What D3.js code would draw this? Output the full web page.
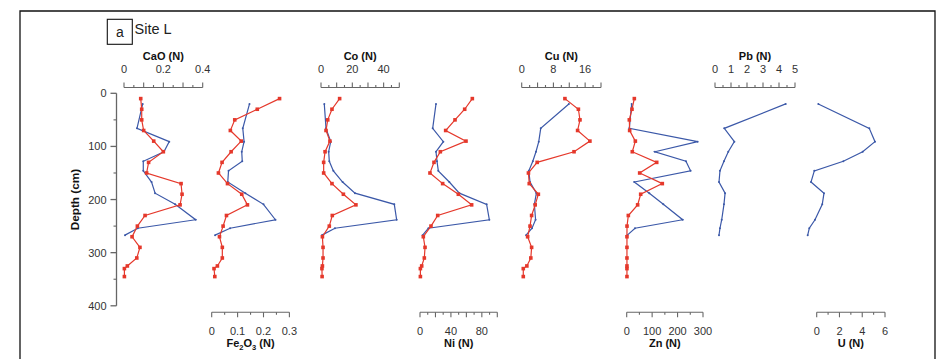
<!DOCTYPE html>
<html><head><meta charset="utf-8">
<script src="https://cdn.jsdelivr.net/npm/d3@7"></script>
<style>
html,body{margin:0;padding:0;background:#fff;}
svg{display:block;font-family:"Liberation Sans",Arial,sans-serif;}
</style></head>
<body><svg id="chart" width="945" height="362"></svg>
<script>
// ---- data ----
const depthRed  = [10,30,50,70,90,110,130,150,170,190,210,230,250,270,290,310,325,330,345];
const depthBlue = [20,66,91,110,128,146,167,188,209,238,254,267];

const caoRed  = [0.085,0.09,0.09,0.10,0.151,0.20,0.125,0.115,0.29,0.295,0.285,0.107,0.068,0.041,0.081,0.065,0.017,0.002,0.002];
const caoBlue = [0.095,0.066,0.23,0.203,0.098,0.098,0.14,0.158,0.26,0.364,0.07,0.005];
const fe2o3Red  = [0.262,0.176,0.089,0.072,0.114,0.075,0.04,0.026,0.061,0.116,0.138,0.057,0.044,0.03,0.041,0.041,0.022,0.009,0.012];
const fe2o3Blue = [0.146,0.12,0.125,0.116,0.118,0.065,0.062,0.13,0.2,0.246,0.071,0.013];
const coRed  = [11.9,7.0,4.3,3.2,5.7,2.6,1.7,1.7,7.0,14.3,22.3,7.2,5.3,0.9,1.3,1.3,0.9,0.6,0.7];
const coBlue = [2.1,3.2,6.2,4.9,5.3,7.9,13.8,21.7,46.8,48.3,8.9,0.6];
const niRed  = [67.7,57.8,45.3,33.2,59.5,26.3,18.1,12.9,29.3,49.6,66.8,22.9,14.2,4.3,6.5,5.6,2.2,0.5,0.5];
const niBlue = [20.7,16.4,30.2,20.7,22,23.7,37.9,50.9,86.2,89.7,10.8,3.4];
const cuRed  = [10.9,14.3,14.7,14.1,17.2,13.2,3.9,1.7,1.9,4.2,3.4,2.5,2.1,1.5,2.5,2.3,1.3,0.4,0.4];
const cuBlue = [11.9,4.8,4.3,3.6,2.8,1.8,2.1,3.7,3.2,3.5,2.6,1.1];
const znRed  = [30,20.8,10.3,11.6,34,22,118,51,140,55,43,6.4,1.2,1,1,1,1,1,1];
const znBlue = [19.5,10.3,279,111,233,251,30,89,144,220,32.6,2.5];
const pbBlue = [4.42,0.58,1.21,0.83,0.56,0.31,0.25,0.63,0.56,0.42,0.31,0.25];
const uBlue  = [0.14,4.62,5.12,4.04,2.34,-0.21,-0.5,0.64,0.49,-0.15,-0.65,-0.79];

const depthTicks = [0,100,200,300,400];
const depthMinor = [50,150,250,350];

const caoLabels = [0,0.2,0.4];
const fe2o3Labels = [0,0.1,0.2,0.3];
const coLabels = [0,20,40];
const niLabels = [0,40,80];
const cuLabels = [0,8,16];
const znLabels = [0,100,200,300];
const pbLabels = [0,1,2,3,4,5];
const uLabels = [0,2,4,6];

// ---- layout ----
const RED = "#e5382b", BLUE = "#3b58a8", AXIS = "#666", TXT = "#333";
const svg = d3.select("#chart");
const y = d3.scaleLinear().domain([0,400]).range([93.3,305.8]);
const topY = 87.5, botY = 312.3;

const panels = [
  {title:"CaO (N)", range:[124,202.7], domain:[0,0.4], step:0.05, major:0.1, labels:caoLabels, pos:"top", red:caoRed, blue:caoBlue, fmt:d=>d===0?"0":d3.format(".1f")(d)},
  {title:"Fe2O3", range:[211.7,289.4], domain:[0,0.3], step:0.05, major:0.1, labels:fe2o3Labels, pos:"bottom", red:fe2o3Red, blue:fe2o3Blue, fmt:d=>d===0?"0":d3.format(".1f")(d)},
  {title:"Co (N)", range:[321,399.3], domain:[0,50], step:5, major:10, labels:coLabels, pos:"top", red:coRed, blue:coBlue, fmt:d3.format("d")},
  {title:"Ni (N)", range:[420,497.3], domain:[0,100], step:10, major:20, labels:niLabels, pos:"bottom", red:niRed, blue:niBlue, fmt:d3.format("d")},
  {title:"Cu (N)", range:[521.7,601], domain:[0,20], step:2, major:4, labels:cuLabels, pos:"top", red:cuRed, blue:cuBlue, fmt:d3.format("d")},
  {title:"Zn (N)", range:[626.7,703], domain:[0,300], step:50, major:100, labels:znLabels, pos:"bottom", red:znRed, blue:znBlue, fmt:d3.format("d")},
  {title:"Pb (N)", range:[715,795], domain:[0,5], step:0.5, major:1, labels:pbLabels, pos:"top", red:null, blue:pbBlue, fmt:d3.format("d")},
  {title:"U (N)", range:[816.7,885], domain:[0,6], step:1, major:2, labels:uLabels, pos:"bottom", red:null, blue:uBlue, fmt:d3.format("d")}
];

// frame
svg.append("path").attr("d","M20,359V11H935V359").attr("fill","none").attr("stroke","#111").attr("stroke-width",1.3);

// label box
svg.append("rect").attr("x",107.3).attr("y",19.3).attr("width",25).attr("height",25)
  .attr("fill","none").attr("stroke","#111").attr("stroke-width",1.1);
svg.append("text").attr("x",119.8).attr("y",37).attr("text-anchor","middle")
  .attr("font-size",14).attr("fill","#222").text("a");
svg.append("text").attr("x",134.5).attr("y",33.5).attr("font-size",14.5).attr("fill","#222").text("Site L");

// depth axis
const dAxis = svg.append("g");
dAxis.append("line").attr("x1",116.5).attr("x2",116.5).attr("y1",y(0)).attr("y2",y(400))
  .attr("stroke",AXIS).attr("stroke-width",1.3);
dAxis.selectAll(".maj").data(depthTicks).join("line")
  .attr("x1",110.5).attr("x2",116.5).attr("y1",d=>y(d)).attr("y2",d=>y(d))
  .attr("stroke",AXIS).attr("stroke-width",1.3);
dAxis.selectAll(".min").data(depthMinor).join("line").attr("class","min")
  .attr("x1",113.5).attr("x2",116.5).attr("y1",d=>y(d)).attr("y2",d=>y(d))
  .attr("stroke",AXIS).attr("stroke-width",1.1);
dAxis.selectAll("text").data(depthTicks).join("text")
  .attr("x",106.5).attr("y",d=>y(d)+4).attr("text-anchor","end")
  .attr("font-size",11).attr("fill",TXT).text(d=>d);
svg.append("text").attr("transform",`translate(79,${y(200)}) rotate(-90)`)
  .attr("text-anchor","middle").attr("font-size",11.8).attr("font-weight","bold")
  .attr("fill","#111").text("Depth (cm)");

// panels
panels.forEach(p=>{
  const x = d3.scaleLinear().domain(p.domain).range(p.range);
  const g = svg.append("g");
  const isTop = p.pos==="top";
  const by = isTop ? topY : botY;
  const dir = isTop ? -1 : 1;
  const n = Math.round((p.domain[1]-p.domain[0])/p.step);
  const ticks = d3.range(n+1).map(i=>p.domain[0]+i*p.step);
  g.append("line").attr("x1",x(p.domain[0])).attr("x2",x(p.domain[1]))
    .attr("y1",by).attr("y2",by).attr("stroke",AXIS).attr("stroke-width",1.1);
  g.selectAll(".tk").data(ticks).join("line")
    .attr("x1",d=>x(d)).attr("x2",d=>x(d)).attr("y1",by)
    .attr("y2",(d,i)=>{
      const isMaj = i===0 || i===n || Math.abs(d/p.major - Math.round(d/p.major))<1e-6;
      return by + dir*(isMaj?5:2.5);
    })
    .attr("stroke",AXIS).attr("stroke-width",1.1);
  const ly = isTop ? 73 : 335;
  g.selectAll(".lb").data(p.labels).join("text")
    .attr("x",d=>x(d)).attr("y",ly).attr("text-anchor","middle")
    .attr("font-size",11).attr("fill",TXT).text(p.fmt);
  const tx = (p.range[0]+p.range[1])/2;
  const ty = isTop ? 60 : 347;
  const t = g.append("text").attr("x",tx).attr("y",ty).attr("text-anchor","middle")
    .attr("font-size",11).attr("font-weight","bold").attr("fill","#111");
  if(p.title==="Fe2O3"){
    t.append("tspan").text("Fe");
    t.append("tspan").attr("font-size",7.5).attr("dy",2.5).text("2");
    t.append("tspan").attr("dy",-2.5).text("O");
    t.append("tspan").attr("font-size",7.5).attr("dy",2.5).text("3");
    t.append("tspan").attr("dy",-2.5).text(" (N)");
  } else t.text(p.title);

  // blue series
  const bData = p.blue.map((v,i)=>({v,d:depthBlue[i]}));
  const line = d3.line().x(d=>x(d.v)).y(d=>y(d.d));
  g.append("path").datum(bData).attr("d",line).attr("fill","none")
    .attr("stroke",BLUE).attr("stroke-width",1.2);
  g.selectAll(".bp").data(bData).join("circle")
    .attr("cx",d=>x(d.v)).attr("cy",d=>y(d.d)).attr("r",1).attr("fill",BLUE);
  // red series
  if(p.red){
    const rData = p.red.map((v,i)=>({v,d:depthRed[i]}));
    g.append("path").datum(rData).attr("d",line).attr("fill","none")
      .attr("stroke",RED).attr("stroke-width",1.2);
    g.selectAll(".rp").data(rData).join("rect")
      .attr("x",d=>x(d.v)-1.8).attr("y",d=>y(d.d)-1.8).attr("width",3.6).attr("height",3.6)
      .attr("fill",RED);
  }
});
</script></body></html>
